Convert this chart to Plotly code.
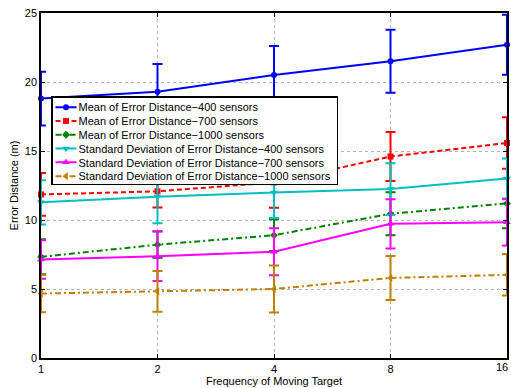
import plotly.graph_objects as go

# Frequency of the moving target (categorical, equally spaced)
freq_labels = ["1", "2", "4", "8", "16"]

# Mean of error distance (m) and the error-bar half-lengths
mean_400 = [18.8, 19.3, 20.5, 21.5, 22.7]
err_mean_400 = [1.95, 2.0, 2.1, 2.28, 2.17]

mean_700 = [11.85, 12.08, 12.72, 14.6, 15.58]
err_mean_700 = [1.55, 1.17, 1.84, 1.78, 1.87]

mean_1000 = [7.33, 8.21, 8.9, 10.45, 11.2]
err_mean_1000 = [1.27, 0.96, 1.15, 1.56, 1.8]

# Standard deviation of error distance (m) and error-bar half-lengths
std_400 = [11.28, 11.69, 12.0, 12.24, 13.0]
err_std_400 = [1.6, 1.93, 1.85, 1.87, 1.45]

std_700 = [7.14, 7.38, 7.7, 9.72, 9.83]
err_std_700 = [1.4, 1.8, 1.7, 1.78, 1.68]

std_1000 = [4.67, 4.83, 5.0, 5.8, 6.03]
err_std_1000 = [1.35, 1.48, 1.7, 1.6, 1.5]

series = [
    ("Mean of Error Distance−400 sensors", mean_400, err_mean_400,
     "#0000FF", "solid", "circle", 6),
    ("Mean of Error Distance−700 sensors", mean_700, err_mean_700,
     "#FF0000", "5px,3px", "square", 6),
    ("Mean of Error Distance−1000 sensors", mean_1000, err_mean_1000,
     "#008000", "6px,3px,2px,3px", "diamond", 6),
    ("Standard Deviation of Error Distance−400 sensors", std_400, err_std_400,
     "#00BFBF", "solid", "triangle-down", 7),
    ("Standard Deviation of Error Distance−700 sensors", std_700, err_std_700,
     "#FF00FF", "solid", "triangle-up", 7),
    ("Standard Deviation of Error Distance−1000 sensors", std_1000, err_std_1000,
     "#BF8000", "6px,3px,2px,3px", "triangle-left", 7),
]

x_pos = list(range(len(freq_labels)))
# the last label sits on the right border, so it is placed as a
# right-anchored annotation that stays inside the page
tick_text = freq_labels[:-1] + [""]

fig = go.Figure()
for name, vals, errs, color, dash, symbol, msize in series:
    fig.add_trace(go.Scatter(
        x=x_pos, y=vals, name=name, mode="lines+markers",
        line=dict(color=color, width=2, dash=dash),
        marker=dict(symbol=symbol, size=msize, color=color),
        error_y=dict(type="data", array=errs, visible=True,
                     color=color, thickness=2, width=5),
        cliponaxis=False,
    ))

font_family = "Liberation Sans, Arial, sans-serif"

axis_common = dict(
    showgrid=True, gridcolor="#b4b4b4", griddash="dot", gridwidth=1,
    showline=True, linecolor="black", linewidth=1.5, mirror="ticks",
    ticks="inside", ticklen=4, tickcolor="black", tickwidth=1,
    zeroline=False, tickfont=dict(size=11), ticklabeloverflow="allow",
    automargin=False,
)

fig.update_layout(
    width=511, height=388,
    margin=dict(l=41, r=4, t=13, b=30, autoexpand=False),
    paper_bgcolor="white", plot_bgcolor="white",
    font=dict(family=font_family, size=11, color="black"),
    showlegend=True,
    legend=dict(
        x=0.0215, y=0.759, xanchor="left", yanchor="top",
        bgcolor="white", bordercolor="black", borderwidth=1.5,
        font=dict(family=font_family, size=11, color="black"),
        itemwidth=30, tracegroupgap=0,
    ),
    xaxis=dict(
        range=[0, 4], tickmode="array", tickvals=x_pos, ticktext=tick_text,
        title=dict(text="Frequency of Moving Target", standoff=2,
                   font=dict(size=11)),
        **axis_common,
    ),
    yaxis=dict(
        range=[0, 25], tickmode="array", tickvals=[0, 5, 10, 15, 20, 25],
        title=dict(text="Error Distance (m)", standoff=4,
                   font=dict(size=11)),
        **axis_common,
    ),
    annotations=[dict(
        x=x_pos[-1], xref="x", y=0, yref="paper",
        text=freq_labels[-1], showarrow=False,
        xanchor="right", yanchor="top", xshift=3, yshift=-1,
        font=dict(family=font_family, size=11, color="black"),
    )],
)

# Tighten the legend: shorter key samples and compact row spacing.
legend_js = """
(function(){
  var gd = document.getElementById('{plot_id}');
  function squeeze(){
    var items = gd.querySelectorAll('.legend .traces');
    if (!items.length) return;
    var step = 13.8, shift = 14, lift = 5, first = null, n = items.length;
    items.forEach(function(el, i){
      var m = /translate\\(([-\\d.]+)[ ,]+([-\\d.]+)\\)/.exec(el.getAttribute('transform'));
      if (!m) return;
      if (first === null) first = parseFloat(m[2]) - lift;
      el.setAttribute('transform', 'translate(' + m[1] + ',' + (first + i * step) + ')');
      el.querySelectorAll('path.js-line').forEach(function(p){
        p.setAttribute('d', 'M3,0h21');
      });
      el.querySelectorAll('.legendsymbols path').forEach(function(p){
        p.setAttribute('transform', 'translate(13.5,0)');
      });
      el.querySelectorAll('text.legendtext').forEach(function(t){
        t.setAttribute('x', 26);
      });
    });
    var bg = gd.querySelector('.legend rect.bg');
    if (bg) {
      var h = parseFloat(bg.getAttribute('height'));
      var w = parseFloat(bg.getAttribute('width'));
      bg.setAttribute('height', h - (n - 1) * (19 - step) - 2 * lift - 2);
      bg.setAttribute('width', w - shift);
    }
  }
  squeeze();
})();
"""

fig.write_html("out.html", post_script=legend_js)
